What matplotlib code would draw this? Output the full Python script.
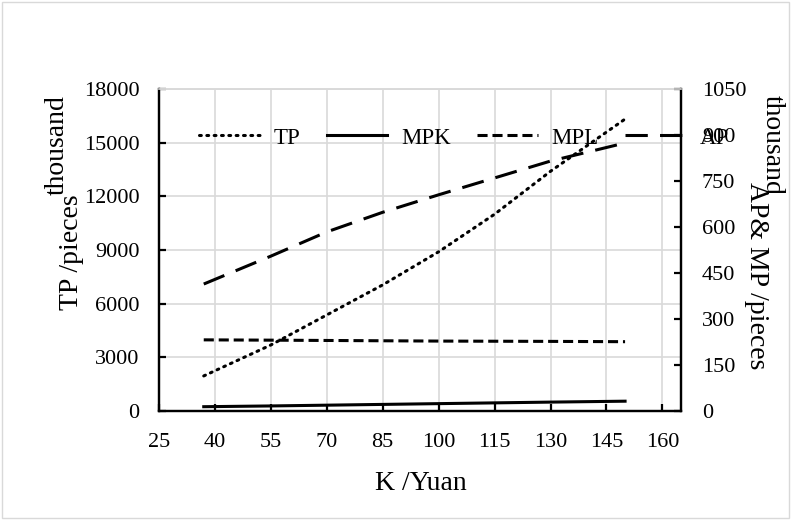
import matplotlib
matplotlib.use("Agg")
import matplotlib.pyplot as plt
from matplotlib.patches import Rectangle

plt.rcParams['font.family'] = ['Liberation Serif', 'DejaVu Serif']

# Data
K = [37, 55, 70, 85, 100, 115, 130, 150]
TP = [1960, 3690, 5370, 7050, 8900, 11000, 13400, 16320]
AP = [414, 505, 584, 648, 705, 760, 815, 874]
MPL = [232, 231, 230, 229, 228, 227.5, 227, 226]
MPK = [14, 16.5, 19, 21.5, 24, 26.5, 29, 32]

x_ticks = [25, 40, 55, 70, 85, 100, 115, 130, 145, 160]
left_ticks = [0, 3000, 6000, 9000, 12000, 15000, 18000]
right_ticks = [0, 150, 300, 450, 600, 750, 900, 1050]

fs = 16
lfs = 20
fig = plt.figure(figsize=(7.91, 5.2), dpi=100)
ax = fig.add_axes([159/791, 1-411/520, (681-159)/791, (411-89)/520])
ax2 = ax.twinx()

lw = 2.2
l_tp, = ax.plot(K, TP, color='black', lw=lw, linestyle=(0, (0.6, 1.8)),
                dash_capstyle='round', label='TP')
l_mpk, = ax2.plot(K, MPK, color='black', lw=lw, linestyle='-', label='MPK')
l_mpl, = ax2.plot(K, MPL, color='black', lw=lw, linestyle=(0, (3.3, 1.6)), label='MPL')
l_ap, = ax2.plot(K, AP, color='black', lw=lw, linestyle=(0, (7.3, 4.0)), label='AP')

ax.set_xlim(25, 165)
ax.set_ylim(0, 18000)
ax2.set_ylim(0, 1050)
ax.set_xticks(x_ticks)
ax.set_yticks(left_ticks)
ax2.set_yticks(right_ticks)

ax.grid(True, color='#d9d9d9', lw=1.2)
ax.set_axisbelow(True)

for a in (ax, ax2):
    for s in a.spines.values():
        s.set_linewidth(1.6)
    a.spines['top'].set_color('#d9d9d9')
    a.spines['top'].set_linewidth(1.2)

ax.tick_params(axis='x', direction='in', length=5, width=1.6, labelsize=fs, pad=16)
ax.tick_params(axis='y', direction='in', length=5, width=1.6, labelsize=fs, pad=14)
ax2.tick_params(axis='y', direction='in', length=5, width=1.6, labelsize=fs, pad=15)

fig.text(421/791, 1-483/520, 'K /Yuan', fontsize=lfs, ha='center', va='center')

fig.text(72/791, 1-252/520, 'TP /pieces', rotation=90, fontsize=lfs,
         ha='center', va='center')
fig.text(57/791, 1-145/520, 'thousand', rotation=90, fontsize=lfs,
         ha='center', va='center')
fig.text(756/791, 1-276/520, 'AP& MP /pieces', rotation=270, fontsize=lfs,
         ha='center', va='center')
fig.text(772/791, 1-145/520, 'thousand', rotation=270, fontsize=lfs,
         ha='center', va='center')

leg = fig.legend(handles=[l_tp, l_mpk, l_mpl, l_ap], ncol=4, loc='center',
                 bbox_to_anchor=(464/791, 1-138/520), frameon=False,
                 fontsize=fs + 0.5, handlelength=2.65, handletextpad=0.6,
                 columnspacing=1.15, borderpad=0)

fig.patches.append(Rectangle((0.003, 0.003), 0.994, 0.994, transform=fig.transFigure,
                             fill=False, edgecolor='#d9d9d9', lw=1))

fig.savefig('out.png', dpi=100)
